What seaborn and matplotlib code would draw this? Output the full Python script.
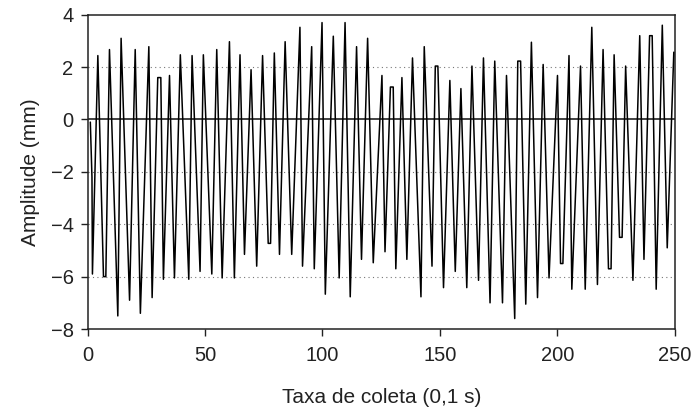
import matplotlib
matplotlib.use("Agg")
import matplotlib.pyplot as plt
import seaborn as sns
import pandas as pd

# vertices of the trace (sample index, amplitude in mm)
tempo = [1.2, 1.9, 2.1, 4.4, 6.8, 7.8, 9.35, 12.9, 14.3, 17.9, 20.3, 22.5, 26.1, 27.5,
         29.9, 31.2, 32.3, 34.9, 37.0, 39.5, 43.1, 44.5, 47.9, 49.3, 52.9, 55.0, 57.3,
         60.4, 62.5, 64.9, 66.8, 69.6, 72.0, 74.5, 76.9, 77.9, 79.5, 81.7, 84.1, 86.9,
         90.4, 91.5, 95.4, 96.5, 99.8, 101.2, 104.6, 107.1, 109.6, 111.8, 114.5, 116.6,
         119.2, 121.6, 125.3, 126.6, 128.9, 130.1, 131.2, 133.8, 135.9, 138.3, 141.9,
         143.3, 146.6, 148.0, 149.1, 151.5, 154.2, 156.5, 158.9, 161.4, 163.6, 166.4,
         168.5, 171.3, 173.3, 176.6, 178.3, 181.8, 183.1, 184.3, 186.5, 188.9, 191.5,
         193.9, 196.4, 200.0, 201.3, 202.3, 204.9, 206.1, 209.8, 211.8, 214.6, 217.0,
         219.4, 221.7, 222.8, 224.1, 226.4, 227.5, 229.0, 232.1, 235.0, 236.8, 239.2,
         240.3, 242.0, 244.6, 246.7, 249.5]
amplitude = [-0.1, -2.2, -5.9, 2.44, -6.0, -6.0, 2.67, -7.5, 3.1, -6.9, 2.67, -7.4, 2.78, -6.8,
             1.6, 1.6, -6.1, 1.68, -6.05, 2.47, -6.1, 2.44, -5.8, 2.47, -5.9, 2.67, -6.05,
             2.97, -6.05, 2.47, -5.15, 1.9, -5.6, 2.44, -4.73, -4.73, 2.54, -5.15, 2.97, -5.15,
             3.52, -5.6, 2.78, -5.7, 3.7, -6.67, 3.18, -6.05, 3.7, -6.77, 2.78, -5.34,
             3.1, -5.47, 1.68, -5.05, 1.24, 1.24, -5.7, 1.6, -5.34, 2.35, -6.77,
             2.78, -5.6, 2.04, 2.04, -6.42, 1.49, -5.8, 1.18, -6.42, 2.04, -6.14,
             2.35, -7.0, 2.23, -7.0, 1.68, -7.6, 2.23, 2.23, -7.05, 2.95, -6.8,
             2.1, -6.05, 1.68, -5.5, -5.5, 2.44, -6.48, 2.04, -6.48, 3.52, -6.3,
             2.67, -5.7, -5.7, 2.47, -4.5, -4.5, 2.04, -6.14, 3.2, -5.34, 3.2,
             3.2, -6.48, 3.6, -4.9, 2.57]

x_ticks = [0, 50, 100, 150, 200, 250]
y_ticks = [-8, -6, -4, -2, 0, 2, 4]

df = pd.DataFrame({"Taxa": tempo, "Amplitude": amplitude})

sns.set_theme(style="ticks")
plt.rcParams["font.family"] = ["Liberation Sans", "DejaVu Sans"]

fig = plt.figure(figsize=(6.95, 4.16), dpi=100)
ax = fig.add_axes([0.1259, 0.2091, 0.8453, 0.7555])

for g in [2, -2, -4, -6]:
    ax.axhline(g, color="#777777", linestyle=(0, (1, 3)), linewidth=0.8, zorder=1)
ax.axhline(0, color="#333333", linewidth=1.3, zorder=1)

sns.lineplot(data=df, x="Taxa", y="Amplitude", sort=False, estimator=None,
             color="black", linewidth=1.1, ax=ax, zorder=3)

ax.set_xlim(0, 250)
ax.set_ylim(-8, 4)
ax.set_xticks(x_ticks)
ax.set_yticks(y_ticks)
ax.set_yticklabels([str(v).replace("-", "\u2212") for v in y_ticks])
ax.tick_params(direction="out", length=5, width=1, labelsize=14.5, colors="#222222")
ax.tick_params(axis="x", pad=7)
ax.tick_params(axis="y", pad=5)
for s in ax.spines.values():
    s.set_visible(True)
    s.set_linewidth(1.1)
    s.set_color("#222222")

ax.set_xlabel("Taxa de coleta (0,1 s)", fontsize=15, labelpad=17, color="#222222")
ax.set_ylabel("Amplitude (mm)", fontsize=15, labelpad=8, color="#222222")

fig.savefig("out.png", dpi=100)
